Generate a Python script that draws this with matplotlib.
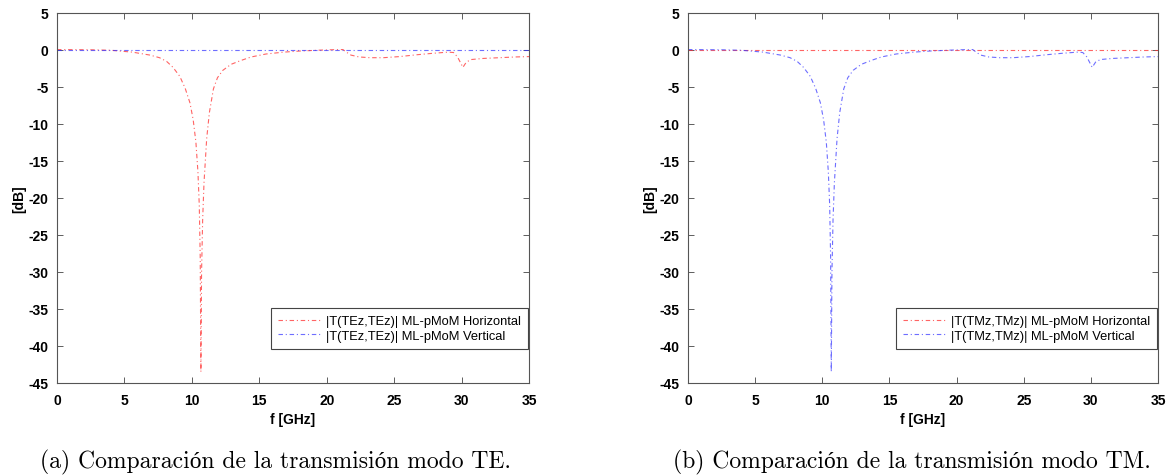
import numpy as np
import matplotlib
matplotlib.use("Agg")
import matplotlib.pyplot as plt

plt.rcParams["axes.unicode_minus"] = False

# transmission curve with the resonance dip
freq_dip = [0, 2.5, 4, 5.6, 6.9, 7.6, 8.13, 8.6, 9.1, 9.5, 9.86, 10.1, 10.3, 10.45,
            10.55, 10.62, 10.67, 10.72, 10.8, 10.9, 11.1, 11.3, 11.6, 11.9, 12.3,
            12.9, 13.6, 14.4, 15.5, 16.8, 18, 19.5, 20.5, 21.2, 21.5, 21.8, 22.4,
            23.2, 24.2, 25.4, 26.7, 27.9, 29.0, 29.4, 29.7, 30.1, 30.35, 30.7,
            31.6, 32.8, 34, 35]
db_dip = [0, -0.03, -0.1, -0.35, -0.75, -1.1, -1.6, -2.4, -3.6, -5.2, -7.2, -9.5,
          -12.5, -16.5, -21, -28, -43.5, -30, -23, -18, -12, -8.5, -5.3, -3.8, -2.8,
          -2.0, -1.5, -1.0, -0.6, -0.35, -0.2, -0.08, -0.02, 0.0, -0.4, -0.75, -1.0,
          -1.1, -1.1, -0.95, -0.7, -0.5, -0.35, -0.4, -1.0, -2.4, -1.7, -1.35,
          -1.2, -1.1, -1.0, -0.95]
# flat curve
freq_flat = [0, 35]
db_flat = [0, 0]

xticks = [0, 5, 10, 15, 20, 25, 30, 35]
yticks = [5, 0, -5, -10, -15, -20, -25, -30, -35, -40, -45]

panels = [
    ("TE", "(a) Comparación de la transmisión modo TE.", "horizontal", 275),
    ("TM", "(b) Comparación de la transmisión modo TM.", "vertical", 912),
]

RED = "#ff3030"
BLUE = "#3030ff"
DASHDOT = (0, (4, 2.5, 1, 2.5))

fig = plt.figure(figsize=(11.72, 4.77), dpi=100)
rects = [[57/1172, 93/477, 472/1172, 370.5/477],
         [688/1172, 93/477, 470/1172, 370.5/477]]

for rect, (mode, caption, dip_on, cap_x) in zip(rects, panels):
    ax = fig.add_axes(rect)
    if dip_on == "horizontal":
        h_f, h_v, v_f, v_v = freq_dip, db_dip, freq_flat, db_flat
    else:
        h_f, h_v, v_f, v_v = freq_flat, db_flat, freq_dip, db_dip
    lab = "|T(%sz,%sz)| ML-pMoM" % (mode, mode)
    ax.plot(h_f, h_v, color=RED, alpha=0.75, lw=0.8, ls=DASHDOT,
            label=lab + " Horizontal")
    ax.plot(v_f, v_v, color=BLUE, alpha=0.7, lw=0.8, ls=DASHDOT,
            label=lab + " Vertical")
    ax.set_xlim(0, 35)
    ax.set_ylim(-45, 5)
    ax.set_xticks(xticks)
    ax.set_yticks(yticks)
    ax.tick_params(direction="in", top=True, right=True, length=4,
                   width=0.6, color="#444444", labelsize=10)
    ax.tick_params(axis="x", pad=7)
    ax.tick_params(axis="y", pad=6)
    for t in ax.get_xticklabels() + ax.get_yticklabels():
        t.set_fontweight("bold")
        t.set_family("Liberation Sans")
    for s in ax.spines.values():
        s.set_color("#555555")
        s.set_linewidth(0.8)
    ax.set_xlabel("f [GHz]", fontsize=10, fontweight="bold",
                  family="Liberation Sans", labelpad=4)
    ax.set_ylabel("[dB]", fontsize=10, fontweight="bold",
                  family="Liberation Sans", labelpad=2)
    leg = ax.legend(loc="lower right",
                    prop={"family": "Liberation Sans", "size": 9.3},
                    fancybox=False, framealpha=1, edgecolor="#444444",
                    borderpad=0.55, labelspacing=0.2, handlelength=3.3,
                    handletextpad=0.4, borderaxespad=0)
    leg.get_frame().set_linewidth(0.8)
    leg.set_bbox_to_anchor((rect[0] + rect[2] - 1/1172, 1 - 350/477),
                           transform=fig.transFigure)
    fig.text(cap_x / 1172, 1 - 462/477, caption,
             ha="center", va="center",
             fontsize=17, family=["cmr10", "Liberation Serif"])

fig.savefig("out.png", dpi=100)
